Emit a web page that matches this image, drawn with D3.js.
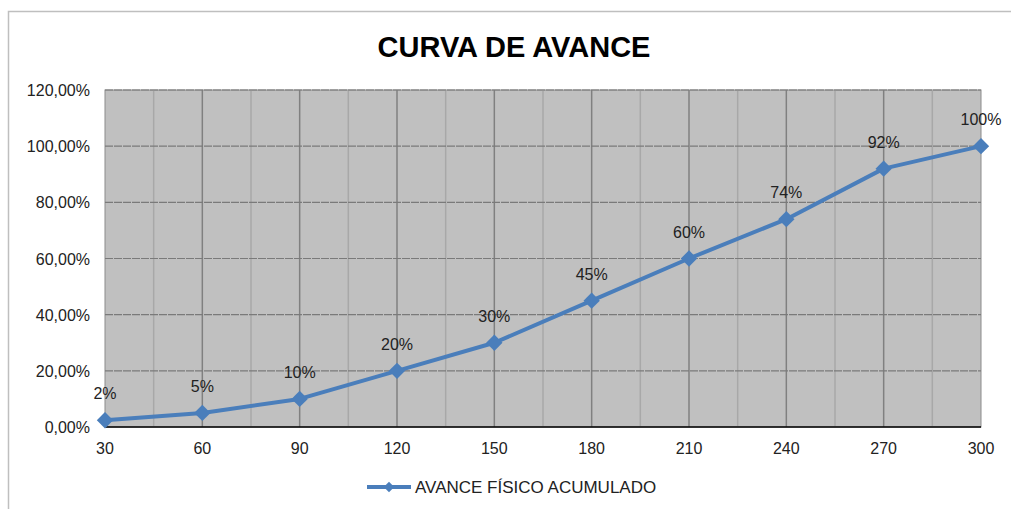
<!DOCTYPE html>
<html>
<head>
<meta charset="utf-8">
<script src="https://cdn.jsdelivr.net/npm/d3@7"></script>
<style>
  body { margin: 0; background: #fff; }
  text { font-family: "Liberation Sans", Arial, sans-serif; }
</style>
</head>
<body>
<svg id="chart" width="1011" height="509"></svg>
<script>
const days = ["30", "60", "90", "120", "150", "180", "210", "240", "270", "300"];
const avance = [0.024, 0.05, 0.10, 0.20, 0.30, 0.45, 0.60, 0.74, 0.92, 1.00];
const pointLabels = ["2%", "5%", "10%", "20%", "30%", "45%", "60%", "74%", "92%", "100%"];
const yTicks = [0, 0.2, 0.4, 0.6, 0.8, 1.0, 1.2];
const seriesName = "AVANCE FÍSICO ACUMULADO";

const lineColor = "#4a7ebb";
const plot = { left: 105, right: 981, top: 90, bottom: 427 };
const fontSize = 16;

const svg = d3.select("#chart");

// outer frame (only top and left edges visible)
svg.append("path")
  .attr("d", "M8.5,509 L8.5,11.5 L1011,11.5")
  .attr("fill", "none")
  .attr("stroke", "#bfbfbf")
  .attr("stroke-width", 1.5);

svg.append("text")
  .attr("x", 514).attr("y", 57)
  .attr("text-anchor", "middle")
  .attr("font-size", 29).attr("font-weight", "bold")
  .attr("fill", "#000")
  .text("CURVA DE AVANCE");

const x = d3.scalePoint().domain(days).range([plot.left, plot.right]);
const y = d3.scaleLinear().domain([0, 1.2]).range([plot.bottom, plot.top]);

// plot background
svg.append("rect")
  .attr("x", plot.left).attr("y", plot.top)
  .attr("width", plot.right - plot.left).attr("height", plot.bottom - plot.top)
  .attr("fill", "#c0c0c0")
  .attr("stroke", "#8c8c8c");

// minor vertical grid between categories
const step = x.step();
svg.append("g")
  .selectAll("line")
  .data(days.slice(0, -1))
  .join("line")
  .attr("x1", (d) => x(d) + step / 2).attr("x2", (d) => x(d) + step / 2)
  .attr("y1", plot.top).attr("y2", plot.bottom)
  .attr("stroke", "#a8a8a8").attr("stroke-width", 1.5);

// major vertical grid
svg.append("g")
  .selectAll("line")
  .data(days.slice(1, -1))
  .join("line")
  .attr("x1", (d) => x(d)).attr("x2", (d) => x(d))
  .attr("y1", plot.top).attr("y2", plot.bottom)
  .attr("stroke", "#808080").attr("stroke-width", 1.5);

// horizontal grid
svg.append("g")
  .selectAll("line")
  .data(yTicks.slice(1))
  .join("line")
  .attr("x1", plot.left).attr("x2", plot.right)
  .attr("y1", (d) => y(d)).attr("y2", (d) => y(d))
  .attr("stroke", "#7a7a7a").attr("stroke-width", 1.2)
  .attr("stroke-dasharray", "8 1");

// x axis line
svg.append("line")
  .attr("x1", plot.left).attr("x2", plot.right)
  .attr("y1", plot.bottom).attr("y2", plot.bottom)
  .attr("stroke", "#000").attr("stroke-width", 1.5);

// y axis labels
const fmt = (v) => (v * 100).toFixed(2).replace(".", ",") + "%";
svg.append("g")
  .selectAll("text")
  .data(yTicks)
  .join("text")
  .attr("x", 90).attr("y", (d) => y(d) + 6)
  .attr("text-anchor", "end")
  .attr("font-size", fontSize).attr("fill", "#222")
  .text(fmt);

// x axis labels
svg.append("g")
  .selectAll("text")
  .data(days)
  .join("text")
  .attr("x", (d) => x(d)).attr("y", 454)
  .attr("text-anchor", "middle")
  .attr("font-size", fontSize).attr("fill", "#222")
  .text((d) => d);

// series line
const line = d3.line()
  .x((d, i) => x(days[i]))
  .y((d) => y(d));

svg.append("path")
  .datum(avance)
  .attr("d", line)
  .attr("fill", "none")
  .attr("stroke", lineColor)
  .attr("stroke-width", 4)
  .attr("stroke-linejoin", "round");

const diamond = d3.symbol().type(d3.symbolDiamond2).size(170);
svg.append("g")
  .selectAll("path")
  .data(avance)
  .join("path")
  .attr("transform", (d, i) => `translate(${x(days[i])},${y(d)})`)
  .attr("d", diamond)
  .attr("fill", lineColor);

// data labels
svg.append("g")
  .selectAll("text")
  .data(avance)
  .join("text")
  .attr("x", (d, i) => x(days[i]))
  .attr("y", (d) => y(d) - 21)
  .attr("text-anchor", "middle")
  .attr("font-size", fontSize).attr("fill", "#222")
  .text((d, i) => pointLabels[i]);

// legend
const lg = svg.append("g").attr("transform", "translate(367,487)");
lg.append("line")
  .attr("x1", 0).attr("x2", 44)
  .attr("stroke", lineColor).attr("stroke-width", 4);
lg.append("path")
  .attr("transform", "translate(22,0)")
  .attr("d", d3.symbol().type(d3.symbolDiamond2).size(70))
  .attr("fill", lineColor);
lg.append("text")
  .attr("x", 48).attr("y", 6)
  .attr("font-size", 17).attr("fill", "#222")
  .text(seriesName);
</script>
</body>
</html>
